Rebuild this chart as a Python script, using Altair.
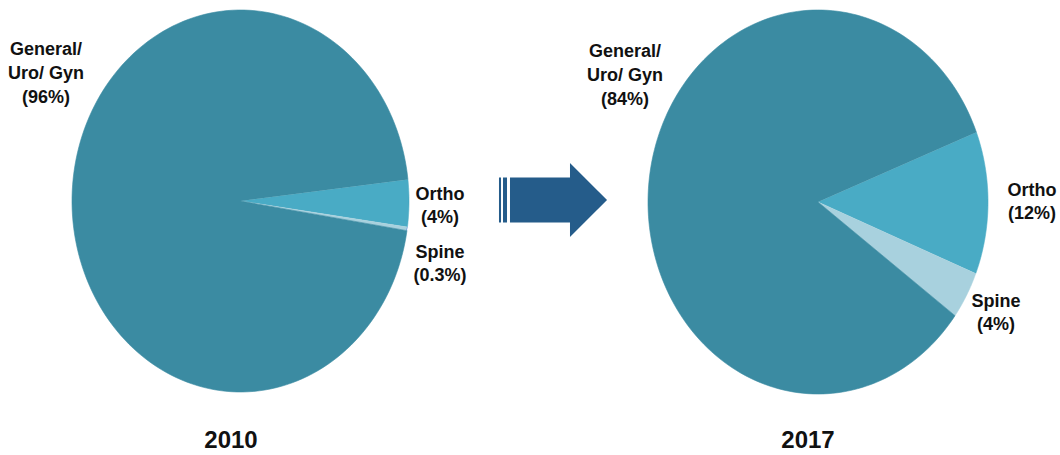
import altair as alt
import pandas as pd

# ---- data ----
years = ["2010", "2017"]
categories = ["Ortho", "Spine", "General/ Uro/ Gyn"]
label_names = ["Ortho", "Spine", "General/\nUro/ Gyn"]
values_2010 = [4, 0.3, 96]
values_2017 = [12, 4, 84]
pct_labels_2010 = ["4%", "0.3%", "96%"]
pct_labels_2017 = ["12%", "4%", "84%"]
slice_colors = ["#49abc5", "#a8d1de", "#3b8ba2"]
rotation_deg = [83.5, 68.7]   # clockwise angle (from 12 o'clock) where the first slice starts
N_STEPS = 180

rows = []
for year, vals, rot in zip(years, [values_2010, values_2017], rotation_deg):
    for i, (cat, v) in enumerate(zip(categories, vals)):
        rows.append({"year": year, "cat": cat, "value": v, "order": i, "rot": rot,
                     "step": list(range(-1, N_STEPS + 1))})
pie_df = pd.DataFrame(rows)

color_scale = alt.Scale(domain=categories, range=slice_colors)

# pixel frame of each (elliptical) pie
pie_frames = {
    "2010": {"x": [72, 409], "y": [392, 10]},
    "2017": {"x": [648, 988], "y": [394, 10]},
}


def pie_layer(year):
    fr = pie_frames[year]
    return (
        alt.Chart(pie_df)
        .transform_filter(alt.datum.year == year)
        .transform_joinaggregate(total="sum(value)", groupby=["year"])
        .transform_window(cum="sum(value)", sort=[alt.SortField("order")],
                          groupby=["year"], frame=[None, 0])
        .transform_flatten(["step"])
        .transform_calculate(
            a0="datum.rot*PI/180 + 2*PI*(datum.cum - datum.value)/datum.total",
            a1="datum.rot*PI/180 + 2*PI*datum.cum/datum.total",
        )
        .transform_calculate(
            a=f"datum.a0 + (datum.a1 - datum.a0)*max(datum.step, 0)/{N_STEPS}",
            r="datum.step < 0 ? 0 : 1",
        )
        .transform_calculate(
            px="datum.r*sin(datum.a)",
            py="datum.r*cos(datum.a)",
        )
        .mark_line(strokeWidth=0.6, interpolate="linear")
        .encode(
            x=alt.X("px:Q", scale=alt.Scale(domain=[-1, 1], range=fr["x"], nice=False, zero=False), axis=None),
            y=alt.Y("py:Q", scale=alt.Scale(domain=[-1, 1], range=fr["y"], nice=False, zero=False), axis=None),
            fill=alt.Fill("cat:N", scale=color_scale, legend=None),
            color=alt.Color("cat:N", scale=color_scale, legend=None),
            detail="cat:N",
            order=alt.Order("step:Q"),
        )
    )


FONT = "Liberation Sans"


def text_layer(txt, x, y, size=18, line_height=23):
    # y is the centre of the first line
    return (
        alt.Chart(pd.DataFrame({"t": [txt]}))
        .mark_text(font=FONT, fontSize=size, fontWeight="bold", color="#111111",
                   align="center", baseline="middle", lineBreak="\n", lineHeight=line_height)
        .encode(x=alt.value(x), y=alt.value(y), text="t:N")
    )


def lbl(names, pcts, i):
    return f"{names[i]}\n({pcts[i]})"


labels = [
    text_layer(lbl(label_names, pct_labels_2010, 2), 46, 50, line_height=24),
    text_layer(lbl(label_names, pct_labels_2010, 0), 440, 195, line_height=23),
    text_layer(lbl(label_names, pct_labels_2010, 1), 440, 253, line_height=23),
    text_layer(lbl(label_names, pct_labels_2017, 2), 625, 52, line_height=24),
    text_layer(lbl(label_names, pct_labels_2017, 0), 1032, 191, line_height=23),
    text_layer(lbl(label_names, pct_labels_2017, 1), 996, 302, line_height=23),
    text_layer(years[0], 231, 441, size=24),
    text_layer(years[1], 808, 441, size=24),
]

# decorative arrow between the pies (custom symbol normalised to [-1, 1])
arrow_path = (
    "M-0.973,-0.41L-0.936,-0.41L-0.936,0.41L-0.973,0.41Z "
    "M-0.9,-0.41L-0.827,-0.41L-0.827,0.41L-0.9,0.41Z "
    "M-0.773,-0.41L0.318,-0.41L0.318,-0.673L0.991,0L0.318,0.673L0.318,0.41L-0.773,0.41Z"
)
arrow = (
    alt.Chart(pd.DataFrame({"a": [0]}))
    .mark_point(shape=arrow_path, filled=True, color="#255c8a", opacity=1, strokeWidth=0)
    .encode(x=alt.value(552.5), y=alt.value(200), size=alt.value(12100))
)

chart = (
    alt.layer(pie_layer("2010"), pie_layer("2017"), arrow, *labels)
    .resolve_scale(x="independent", y="independent")
    .properties(width=1060, height=455, autosize=alt.AutoSizeParams(type="none"), padding=0,
                background="white")
    .configure_view(stroke=None)
)

chart.save("out.html", embed_options={"renderer": "svg", "actions": False})
